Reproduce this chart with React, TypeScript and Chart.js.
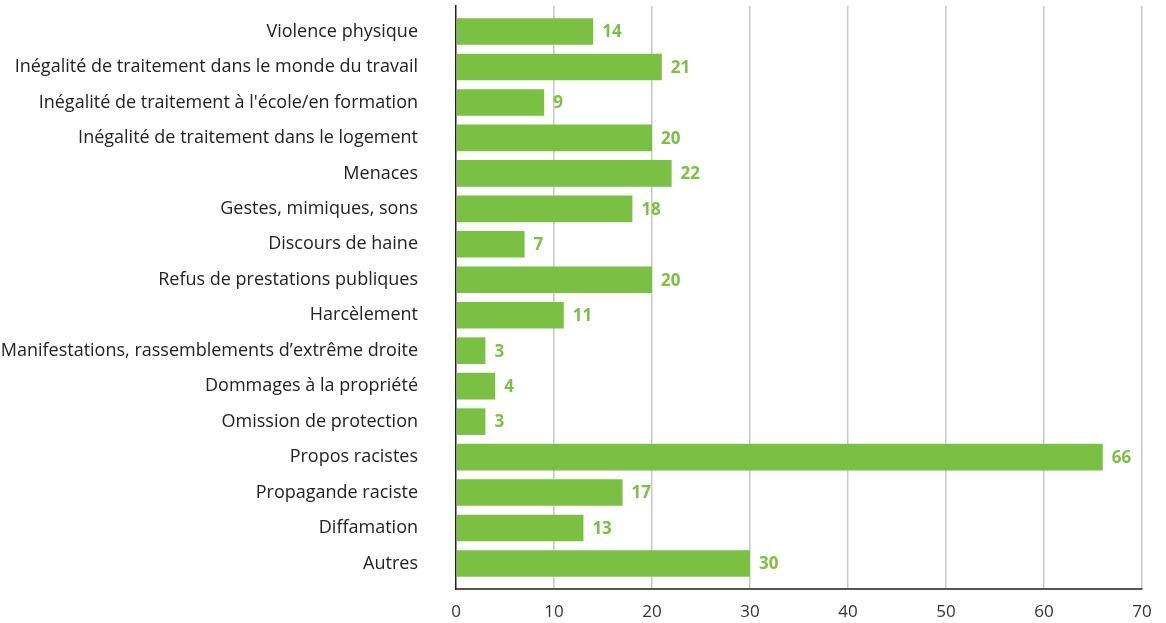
import React, { useEffect, useRef } from "react";
import { Chart, registerables } from "chart.js";

Chart.register(...registerables);

const categories: string[] = [
  "Violence physique",
  "Inégalité de traitement dans le monde du travail",
  "Inégalité de traitement à l'école/en formation",
  "Inégalité de traitement dans le logement",
  "Menaces",
  "Gestes, mimiques, sons",
  "Discours de haine",
  "Refus de prestations publiques",
  "Harcèlement",
  "Manifestations, rassemblements d’extrême droite",
  "Dommages à la propriété",
  "Omission de protection",
  "Propos racistes",
  "Propagande raciste",
  "Diffamation",
  "Autres",
];

const values: number[] = [14, 21, 9, 20, 22, 18, 7, 20, 11, 3, 4, 3, 66, 17, 13, 30];

const xTicks: number[] = [0, 10, 20, 30, 40, 50, 60, 70];

const GREEN = "#7AC143";
const FONT = "'Open Sans', 'Noto Sans', sans-serif";

const valueLabels = {
  id: "valueLabels",
  afterDatasetsDraw(chart: any) {
    const ctx = chart.ctx;
    const meta = chart.getDatasetMeta(0);
    ctx.save();
    ctx.fillStyle = GREEN;
    ctx.font = `bold 17px ${FONT}`;
    ctx.textAlign = "left";
    ctx.textBaseline = "middle";
    meta.data.forEach((bar: any, i: number) => {
      ctx.fillText(String(values[i]), bar.x + 9, bar.y + 1);
    });
    ctx.restore();
  },
};

export default function App() {
  const ref = useRef<HTMLCanvasElement | null>(null);

  useEffect(() => {
    document.body.style.margin = "0";
    const canvas = ref.current!;
    const chart = new Chart(canvas, {
      type: "bar",
      data: {
        datasets: [
          {
            data: values.map((v, i) => ({ x: v, y: i })),
            backgroundColor: GREEN,
            borderWidth: 0,
            barPercentage: 0.75,
            categoryPercentage: 1,
          },
        ],
      },
      options: {
        indexAxis: "y",
        animation: false,
        responsive: false,
        maintainAspectRatio: false,
        layout: { padding: { top: 6, right: 24, left: 0, bottom: 0 } },
        plugins: { legend: { display: false }, tooltip: { enabled: false } },
        scales: {
          x: {
            type: "linear",
            position: "bottom",
            min: 0,
            max: 70,
            afterBuildTicks: (scale: any) => {
              scale.ticks = xTicks.map((v) => ({ value: v }));
            },
            afterFit: (scale: any) => {
              scale.height = 34;
              scale.paddingLeft = 0;
              scale.paddingRight = 0;
            },
            grid: {
              display: true,
              color: (c: any) => (c.tick && c.tick.value === 0 ? "rgba(0,0,0,0)" : "#c8c8c8"),
              lineWidth: 1.5,
              drawTicks: false,
            },
            border: { display: true, color: "#555555", width: 2 },
            ticks: {
              padding: 13,
              color: "#333333",
              maxRotation: 0,
              font: { family: FONT, size: 17 },
            },
          },
          y: {
            type: "linear",
            reverse: true,
            offset: false,
            min: -0.72,
            max: 15.72,
            afterBuildTicks: (scale: any) => {
              scale.ticks = categories.map((_, i) => ({ value: i }));
            },
            afterFit: (scale: any) => {
              scale.width = 456;
              scale.paddingTop = 0;
              scale.paddingBottom = 0;
            },
            grid: { display: false, drawTicks: false, offset: false },
            border: { display: true, color: "#222222", width: 1.5 },
            ticks: {
              padding: 38,
              color: "#222222",
              autoSkip: false,
              font: { family: FONT, size: 18 },
              callback: (v: any) => categories[Number(v)] ?? "",
            },
          },
        },
      },
      plugins: [valueLabels],
    });
    return () => chart.destroy();
  }, []);

  return (
    <div style={{ width: 1166, height: 623 }}>
      <canvas ref={ref} width={1166} height={623} />
    </div>
  );
}
